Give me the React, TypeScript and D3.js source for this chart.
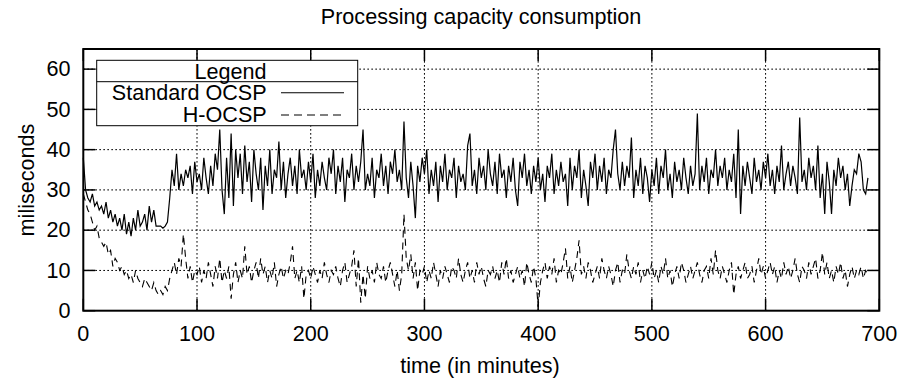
import React from "react";
import * as d3 from "d3";

// minutes sampled every 2 minutes from 0 to 690
const SAMPLE_STEP = 2;

const standardOcsp: number[] = [
  38, 30, 28, 27, 29, 26, 27, 25, 26, 24,
  27, 23, 25, 22, 24, 21, 23, 20, 24, 19,
  22, 18.5, 23, 20, 25, 21, 22, 24, 20, 26,
  22, 25, 21, 21, 21, 20.5, 21, 22, 28, 35,
  31, 39, 30, 34, 31, 35, 33, 36, 29, 37,
  32, 34, 30, 38, 33, 29, 36, 31, 39, 35,
  45, 30, 24, 38, 28, 44, 26, 40, 33, 39,
  29, 41, 32, 37, 27, 40, 34, 30, 38, 25,
  36, 31, 40, 29, 35, 33, 42, 30, 37, 28,
  34, 38, 31, 36, 29, 40, 33, 35, 30, 37,
  32, 39, 28, 35, 31, 37, 33, 30, 38, 34,
  40, 29, 36, 32, 38, 27, 35, 33, 39, 30,
  36, 32, 37, 45, 30, 34, 31, 38, 28, 35,
  33, 39, 31, 36, 29, 37, 34, 40, 32, 35,
  30, 47, 33, 28, 37, 31, 23, 36, 32, 38,
  34, 40, 29, 35, 31, 37, 27, 36, 32, 39,
  30, 35, 33, 38, 28, 36, 32, 34, 30, 41,
  44, 31, 35, 29, 38, 33, 36, 30, 40, 34,
  31, 37, 29, 39, 33, 35, 28, 36, 32, 38,
  30, 26, 37, 33, 39, 31, 35, 29, 36, 32,
  38, 30, 34, 27, 36, 33, 39, 29, 35, 31,
  37, 32, 34, 26, 38, 30, 36, 33, 40, 28,
  35, 31, 26, 37, 33, 39, 30, 36, 32, 38,
  29, 35, 33, 40, 45, 34, 30, 37, 31, 36,
  33, 43, 28, 35, 31, 38, 29, 36, 33, 27,
  35, 31, 38, 29, 36, 33, 40, 30, 34, 28,
  37, 32, 35, 30, 38, 33, 29, 36, 31, 34,
  49, 30, 36, 32, 38, 29, 35, 33, 40, 31,
  36, 33, 38, 30, 35, 32, 39, 28, 45, 24,
  36, 31, 37, 33, 29, 38, 32, 35, 30, 37,
  33, 39, 31, 35, 29, 36, 32, 41, 30, 34,
  37, 31, 36, 33, 29, 48, 32, 35, 30, 38,
  33, 36, 30, 41, 28, 34, 24, 37, 32, 24,
  35, 31, 38, 33, 36, 30, 34, 26, 31, 35,
  34, 39, 37, 30, 29, 33,
];

const hOcsp: number[] = [
  29, 27, 25, 24, 22, 20, 21, 18, 17, 16,
  17, 14, 15, 11, 13, 12, 10, 11, 9, 10,
  8, 9, 7, 10, 8, 7, 6, 8, 7, 6,
  5, 7, 5, 4, 5, 4, 6, 5, 8, 10,
  12, 9, 13, 11, 19, 13, 8, 11, 7, 10,
  9, 11, 7, 10, 8, 12, 9, 6, 11, 8,
  13, 7, 10, 8, 11, 3, 9, 12, 7, 10,
  8, 16, 9, 11, 7, 10, 12, 8, 13, 9,
  11, 7, 10, 8, 12, 6, 9, 11, 8, 10,
  9, 12, 16, 8, 10, 7, 11, 3, 9, 10,
  8, 11, 9, 7, 10, 8, 12, 9, 7, 10,
  9, 11, 8, 6, 10, 12, 7, 9, 11, 15,
  6, 13, 2, 9, 3, 11, 8, 10, 7, 12,
  9, 8, 11, 7, 10, 12, 9, 6, 10, 5,
  9, 24, 13, 10, 14, 8, 12, 5, 10, 9,
  11, 7, 10, 8, 12, 9, 6, 10, 8, 11,
  9, 7, 11, 10, 8, 13, 9, 7, 10, 12,
  8, 10, 7, 12, 9, 11, 8, 6, 10, 9,
  11, 8, 10, 7, 12, 9, 13, 8, 10, 7,
  9, 11, 8, 10, 6, 12, 9, 7, 11, 8,
  1, 7, 10, 12, 8, 11, 9, 13, 7, 10,
  9, 12, 15.5, 8, 11, 7, 10, 13, 17.5, 9,
  11, 8, 12, 10, 7, 9, 11, 8, 13, 10,
  8, 11, 9, 6, 10, 12, 7, 10, 9, 14,
  10, 8, 11, 9, 12, 7, 10, 8, 11, 9,
  12, 8, 10, 7, 11, 9, 13, 8, 10, 6,
  9, 11, 8, 12, 10, 7, 9, 11, 8, 10,
  12, 9, 7, 10, 11, 8, 13, 9, 15, 10,
  8, 11, 9, 7, 10, 12, 4, 9, 11, 8,
  10, 12, 8, 9, 11, 7, 10, 13, 9, 11,
  8, 10, 12, 9, 11, 7, 10, 8, 12, 9,
  11, 8, 10, 13, 9, 7, 11, 10, 8, 12,
  9, 11, 13, 8, 10, 14.5, 9, 12, 8, 10,
  7, 11, 9, 12, 8, 10, 6, 9, 11, 8,
  10, 9, 11, 8, 10, 9,
];

const xTicks: number[] = [0, 100, 200, 300, 400, 500, 600, 700];
const yTicks: number[] = [0, 10, 20, 30, 40, 50, 60];
const seriesNames: string[] = ["Standard OCSP", "H-OCSP"];
const titleText = "Processing capacity consumption";
const xLabel = "time (in minutes)";
const yLabel = "miliseconds";
const legendTitle = "Legend";

const W = 902;
const H = 381;
const M = { left: 83.3, right: 879.3, top: 49, bottom: 310.7 };
const FONT = "'Liberation Sans', Arial, Helvetica, sans-serif";
const FS = 21.6;
const TICK = 12;

export default function App() {
  const x = d3.scaleLinear().domain([0, 700]).range([M.left, M.right]);
  const y = d3.scaleLinear().domain([0, 65]).range([M.bottom, M.top]);

  const toPts = (vals: number[]) => vals.map((v, i) => [i * SAMPLE_STEP, v] as [number, number]);
  const line = d3
    .line<[number, number]>()
    .x((d) => x(d[0]))
    .y((d) => y(d[1]));

  const grid = "1.7,2.3";
  const lg = { x0: 96.7, x1: 357.7, y0: 60.3, y1: 125.7, sep: 81.7 };

  return (
    <svg
      width={W}
      height={H}
      style={{ position: "absolute", left: 0, top: 0, background: "#fff" }}
      fontFamily={FONT}
    >
      <rect x={0} y={0} width={W} height={H} fill="#fff" />
      <text x={481} y={23.5} fontSize={FS} textAnchor="middle" fill="#000">
        {titleText}
      </text>

      {/* grid */}
      {yTicks.filter((t) => t > 0).map((t) => (
        <line key={"gy" + t} x1={M.left} x2={M.right} y1={y(t)} y2={y(t)} stroke="#000" strokeWidth={1} strokeDasharray={grid} />
      ))}
      {xTicks.filter((t) => t > 0 && t < 700).map((t) => (
        <line key={"gx" + t} x1={x(t)} x2={x(t)} y1={M.top} y2={M.bottom} stroke="#000" strokeWidth={1} strokeDasharray={grid} />
      ))}

      {/* ticks */}
      {yTicks.map((t) => (
        <g key={"ty" + t}>
          <line x1={M.left} x2={M.left + TICK} y1={y(t)} y2={y(t)} stroke="#000" strokeWidth={1.5} />
          <line x1={M.right} x2={M.right - TICK} y1={y(t)} y2={y(t)} stroke="#000" strokeWidth={1.5} />
          <text x={70.5} y={y(t) + 7.3} fontSize={FS} textAnchor="end" fill="#000">
            {t}
          </text>
        </g>
      ))}
      {xTicks.map((t) => (
        <g key={"tx" + t}>
          <line x1={x(t)} x2={x(t)} y1={M.bottom} y2={M.bottom - TICK} stroke="#000" strokeWidth={1.5} />
          <line x1={x(t)} x2={x(t)} y1={M.top} y2={M.top + TICK} stroke="#000" strokeWidth={1.5} />
          <text x={x(t)} y={340.5} fontSize={FS} textAnchor="middle" fill="#000">
            {t}
          </text>
        </g>
      ))}

      {/* data */}
      <path d={line(toPts(standardOcsp)) || ""} fill="none" stroke="#000" strokeWidth={1.2} strokeLinejoin="miter" />
      <path d={line(toPts(hOcsp)) || ""} fill="none" stroke="#000" strokeWidth={1.1} strokeDasharray="7,5" />

      {/* legend */}
      <rect x={lg.x0} y={lg.y0} width={lg.x1 - lg.x0} height={lg.y1 - lg.y0} fill="#fff" stroke="#000" strokeWidth={1} />
      <line x1={lg.x0} x2={lg.x1} y1={lg.sep} y2={lg.sep} stroke="#000" strokeWidth={1} />
      <text x={230.5} y={79} fontSize={FS} textAnchor="middle" fill="#000">
        {legendTitle}
      </text>
      <text x={266.7} y={100} fontSize={FS} textAnchor="end" fill="#000">
        {seriesNames[0]}
      </text>
      <line x1={281} x2={344} y1={92.7} y2={92.7} stroke="#000" strokeWidth={1.1} />
      <text x={266.7} y={121.7} fontSize={FS} textAnchor="end" fill="#000">
        {seriesNames[1]}
      </text>
      <line x1={281} x2={344} y1={115} y2={115} stroke="#000" strokeWidth={1.1} strokeDasharray="8,5" />

      {/* border */}
      <rect x={M.left} y={M.top} width={M.right - M.left} height={M.bottom - M.top} fill="none" stroke="#000" strokeWidth={2} />

      {/* axis labels */}
      <text x={480} y={372.7} fontSize={FS} textAnchor="middle" fill="#000">
        {xLabel}
      </text>
      <text transform={`translate(33.5,180) rotate(-90)`} fontSize={FS} textAnchor="middle" fill="#000">
        {yLabel}
      </text>
    </svg>
  );
}
